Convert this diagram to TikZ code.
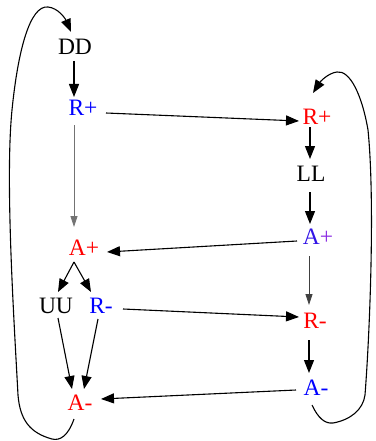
\documentclass[tikz,border=0pt]{standalone}
\usepackage{fontspec}
\setmainfont{Liberation Serif}
\usetikzlibrary{arrows.meta}
\definecolor{vA}{RGB}{50,20,230}
\definecolor{vP}{RGB}{138,43,226}
\begin{document}
\begin{tikzpicture}[x=1pt,y=-1pt,
  lbl/.style={inner sep=0pt,font=\fontsize{23.5}{25}\selectfont},
  arr/.style={line width=1.1pt,-{Triangle[length=13pt,width=10pt]}},
  thinarr/.style={line width=0.8pt,-{Triangle[length=11pt,width=7pt]}},
  loop/.style={line width=1.1pt,-{Triangle[length=13pt,width=10pt]}}]
\useasboundingbox (0,0) rectangle (375,441);
\node[lbl] (dd) at (75,47) {DD};
\node[lbl,text=blue] (rpl) at (83,108) {R+};
\node[lbl,text=red] (apl) at (84,248) {A+};
\node[lbl] (uu) at (56,306) {UU};
\node[lbl,text=blue] (rml) at (101,306) {R-};
\node[lbl,text=red] (aml) at (80,403) {A-};
\node[lbl,text=red] (rpr) at (317,117) {R+};
\node[lbl] (ll) at (311,174) {LL};
\node[lbl] (apr) at (318,237) {\textcolor{vA}{A}\textcolor{vP}{+}};
\node[lbl,text=red] (rmr) at (315,321) {R-};
\node[lbl,text=blue] (amr) at (316,388) {A-};
% edges
\draw[arr] ([shift={(-1,14)}]dd.center) -- ([shift={(-9,-11)}]rpl.center);
\draw[arr] ([shift={(23,5)}]rpl.center) -- ([shift={(-18,4)}]rpr.center);
\draw[thinarr,draw=black!55] ([shift={(-9,17)}]rpl.center) -- ([shift={(-10,-21)}]apl.center);
\draw[arr] ([shift={(-21,4)}]apr.center) -- ([shift={(23,4)}]apl.center);
\draw[arr] ([shift={(-10,14)}]apl.center) -- ([shift={(2,-14)}]uu.center);
\draw[arr] ([shift={(-10,14)}]apl.center) -- ([shift={(-10,-14)}]rml.center);
\draw[arr] ([shift={(2,12)}]uu.center) -- ([shift={(-8,-14)}]aml.center);
\draw[arr] ([shift={(-3,13)}]rml.center) -- ([shift={(4,-14)}]aml.center);
\draw[arr] ([shift={(22,3)}]rml.center) -- ([shift={(-16,-4)}]rmr.center);
\draw[arr] ([shift={(-20,2)}]amr.center) -- ([shift={(21,-4)}]aml.center);
\draw[arr] ([shift={(-7,10)}]rpr.center) -- ([shift={(-1,-15)}]ll.center);
\draw[arr] ([shift={(-1,18)}]ll.center) -- ([shift={(-8,-13)}]apr.center);
\draw[thinarr,draw=black!75] ([shift={(-9,19)}]apr.center) -- ([shift={(-6,-16)}]rmr.center);
\draw[arr] ([shift={(-6,19)}]rmr.center) -- ([shift={(-7,-15)}]amr.center);
% loops
\draw[loop] ([shift={(-6,16)}]aml.center) .. controls (68,436) and (60,441) .. (52,439)
  .. controls (30,433) and (20,420) .. (18,395)
  .. controls (14,320) and (5,180) .. (12,110)
  .. controls (18,50) and (30,5) .. (48,7)
  .. controls (58,8) and (65,18) .. ([shift={(-4,-15)}]dd.center);
\draw[loop] ([shift={(-4,17)}]amr.center) .. controls (318,418) and (325,424) .. (333,423)
  .. controls (350,420) and (363,410) .. (365,395)
  .. controls (370,330) and (375,200) .. (368,130)
  .. controls (362,95) and (350,70) .. (337,72)
  .. controls (328,73) and (320,82) .. ([shift={(-4,-24)}]rpr.center);
\end{tikzpicture}
\end{document}
